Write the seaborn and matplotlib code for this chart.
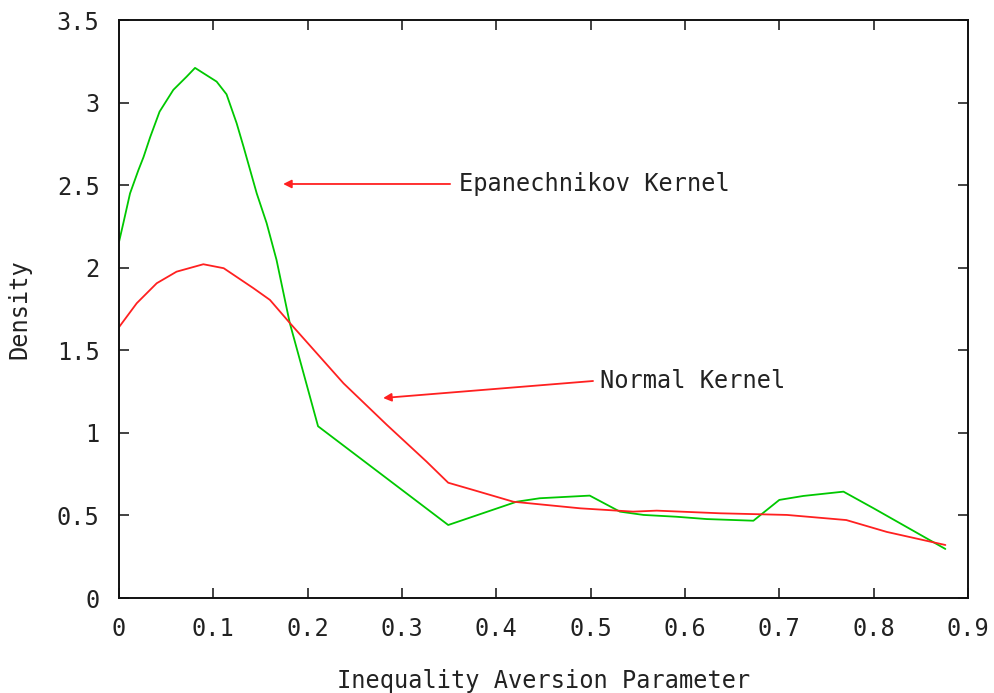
import matplotlib
matplotlib.use("Agg")
import matplotlib.pyplot as plt
import seaborn as sns
import pandas as pd

# Epanechnikov kernel density estimate
epa_x = [0.0, 0.0046, 0.0117, 0.0205, 0.026, 0.033, 0.043, 0.0576, 0.0717,
         0.0806, 0.1035, 0.114, 0.1247, 0.132, 0.146, 0.1565, 0.167, 0.181,
         0.211, 0.349, 0.4215, 0.446, 0.499, 0.531, 0.556, 0.591, 0.623,
         0.6725, 0.70, 0.7255, 0.768, 0.80, 0.876]
epa_y = [2.156, 2.27, 2.45, 2.59, 2.67, 2.79, 2.945, 3.077, 3.157,
         3.21, 3.127, 3.05, 2.875, 2.733, 2.45, 2.27, 2.047, 1.666,
         1.04, 0.442, 0.583, 0.604, 0.62, 0.523, 0.503, 0.492, 0.478,
         0.468, 0.594, 0.618, 0.644, 0.543, 0.297]

# Normal kernel density estimate
norm_x = [0.0, 0.0188, 0.040, 0.061, 0.0894, 0.111, 0.1425, 0.16, 0.181,
          0.238, 0.284, 0.326, 0.349, 0.3756, 0.418, 0.489, 0.545, 0.570,
          0.637, 0.708, 0.771, 0.814, 0.876]
norm_y = [1.64, 1.785, 1.906, 1.976, 2.021, 1.997, 1.876, 1.805, 1.666,
          1.30, 1.048, 0.826, 0.698, 0.654, 0.583, 0.543, 0.523, 0.529,
          0.513, 0.503, 0.472, 0.40, 0.321]

x_ticks = [0, 0.1, 0.2, 0.3, 0.4, 0.5, 0.6, 0.7, 0.8, 0.9]
x_tick_labels = ["0", "0.1", "0.2", "0.3", "0.4", "0.5", "0.6", "0.7", "0.8", "0.9"]
y_ticks = [0, 0.5, 1, 1.5, 2, 2.5, 3, 3.5]
y_tick_labels = ["0", "0.5", "1", "1.5", "2", "2.5", "3", "3.5"]

df = pd.concat([
    pd.DataFrame({"x": epa_x, "y": epa_y, "kernel": "Epanechnikov"}),
    pd.DataFrame({"x": norm_x, "y": norm_y, "kernel": "Normal"}),
])

sns.set_style("ticks")
plt.rcParams["font.family"] = ["DejaVu Sans Mono"]

fig = plt.figure(figsize=(9.95, 6.93), dpi=100)
ax = fig.add_axes([119/995, 1 - 598/693, (968 - 119)/995, (598 - 20)/693])

sns.lineplot(data=df, x="x", y="y", hue="kernel", sort=False, estimator=None,
             palette={"Epanechnikov": "#00c800", "Normal": "#ff2020"},
             linewidth=1.3, ax=ax, legend=False)

ax.set_xlim(0, 0.9)
ax.set_ylim(0, 3.5)
ax.set_xticks(x_ticks)
ax.set_xticklabels(x_tick_labels)
ax.set_yticks(y_ticks)
ax.set_yticklabels(y_tick_labels)
ax.tick_params(direction="in", length=7, width=1.2, top=True, right=True,
               labelsize=17, colors="#222222")
ax.tick_params(axis="x", pad=14)
ax.tick_params(axis="y", pad=14)
for s in ax.spines.values():
    s.set_visible(True)
    s.set_linewidth(1.4)
    s.set_color("#111111")

ax.set_xlabel("Inequality Aversion Parameter", fontsize=17, labelpad=20, color="#222222")
ax.set_ylabel("Density", fontsize=17, labelpad=18, color="#222222")

arrowprops = dict(arrowstyle="-|>", color="#ff2020", lw=1.3,
                  mutation_scale=12, shrinkA=0, shrinkB=0)
ax.annotate("", xy=(0.174, 2.507), xytext=(0.351, 2.507), arrowprops=arrowprops)
ax.text(0.36, 2.507, "Epanechnikov Kernel", fontsize=17, va="center", ha="left", color="#222222")
ax.annotate("", xy=(0.28, 1.211), xytext=(0.5025, 1.314), arrowprops=arrowprops)
ax.text(0.51, 1.314, "Normal Kernel", fontsize=17, va="center", ha="left", color="#222222")

fig.savefig("out.png", dpi=100)
